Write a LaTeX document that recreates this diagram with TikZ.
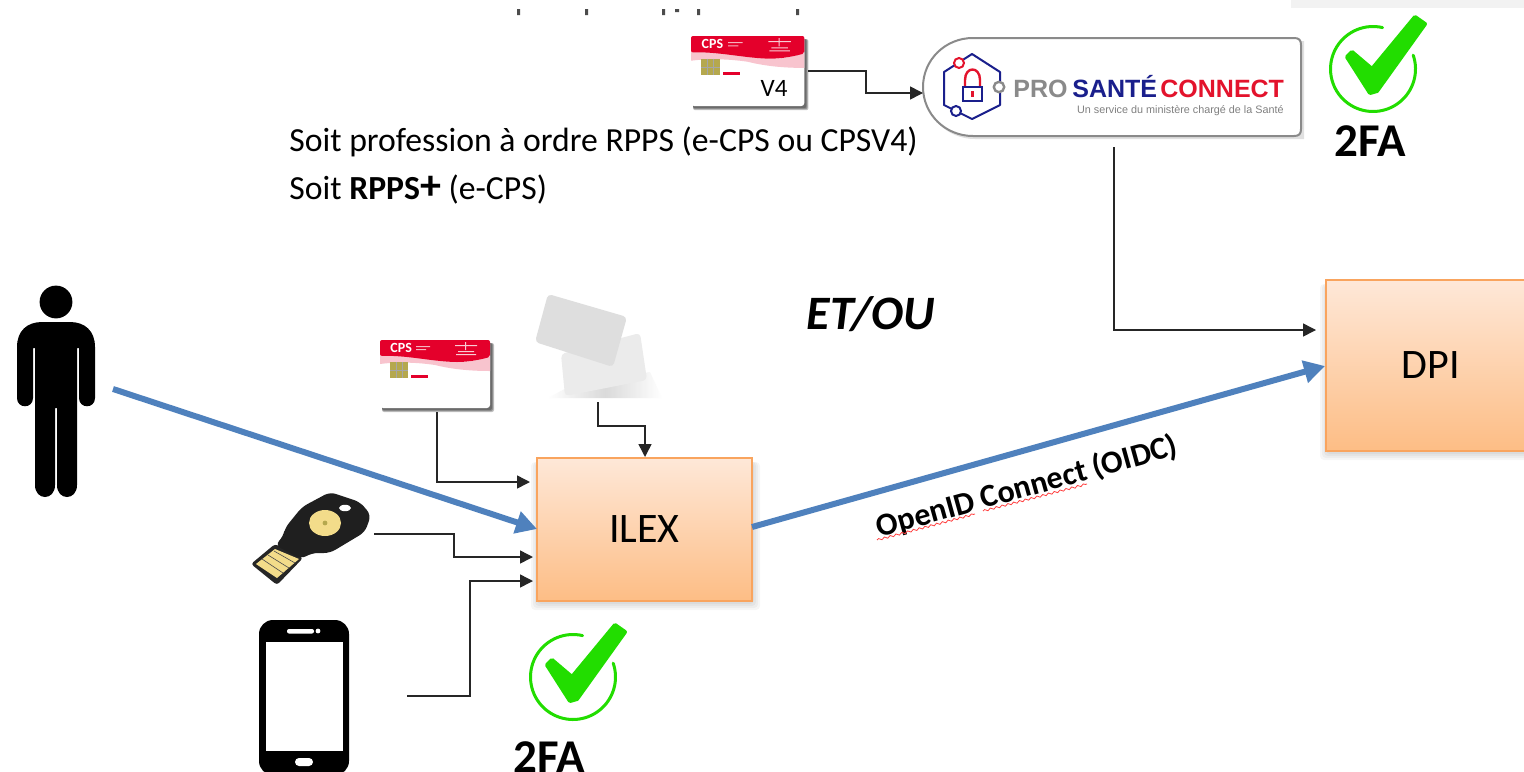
\documentclass[tikz,border=0pt]{standalone}
\usepackage{fontspec}
\setmainfont{Carlito}
\newfontfamily\logofont{Liberation Sans}
\usetikzlibrary{arrows.meta,decorations.pathmorphing}
\definecolor{flowblue}{HTML}{4F81BD}
\definecolor{boxedge}{HTML}{F9A45E}
\definecolor{boxtop}{HTML}{FEE8D8}
\definecolor{boxbot}{HTML}{FDBD85}
\definecolor{okgreen}{HTML}{22DD00}
\definecolor{cpsred}{HTML}{E4002B}
\definecolor{cpspink}{HTML}{F8C4CE}
\definecolor{chipgold}{HTML}{B5A84E}
\definecolor{pscnavy}{HTML}{1A1F8C}
\definecolor{pscred}{HTML}{E3132C}
\definecolor{pscgray}{HTML}{8A8A8A}
\definecolor{keygold}{HTML}{F3DC8A}
\tikzset{
  flowbox/.style={draw=boxedge,line width=1pt,top color=boxtop,bottom color=boxbot,inner sep=0pt,font=\fontsize{21}{25}\selectfont},
  conn/.style={draw=black!85,line width=.75pt,-{Triangle[length=6.5pt,width=6.5pt]}},
  flow/.style={draw=flowblue,line width=3pt,-{Triangle[length=10.5pt,width=11pt]}},
  iconbox/.style={inner sep=0pt,draw=none,fill=none},
  twofa/.style={font=\bfseries\fontsize{23.5}{28}\selectfont,inner sep=0pt},
  bodytext/.style={font=\fontsize{16.85}{20}\selectfont,inner sep=0pt,anchor=base west},
  typo/.style={draw=red!75,line width=.4pt,decorate,decoration={snake,amplitude=.5pt,segment length=3pt}},
  pscword/.style={font=\logofont\bfseries\fontsize{12.5}{15}\selectfont,inner sep=0pt,anchor=base west},
}
\newcommand{\softshadow}[4]{%
  \foreach \e in {1,3,5,7}{\fill[black,opacity=.035,rounded corners=2pt] (#1+1-\e,#2+4) rectangle (#3+1+\e,#4+2+\e);}}
\newcommand{\checkmarkicon}[2]{%
  \begin{scope}[shift={(#1,#2)}]
  \draw[okgreen,line width=1.5pt,line cap=round] plot[smooth,domain=-77:-379,samples=70] ({42.5*cos(\x)},{42.5*sin(\x)});
  \draw[okgreen,fill=okgreen,line width=2pt,line join=round] (-26,-12) -- (-21,-17) -- (-1,0) -- (42,-52) -- (52,-45) -- (4,22) -- (-3,24) -- cycle;
  \end{scope}}
\newcommand{\cardart}[3]{%
  \begin{scope}[shift={(#1,#2)},x=#3*.5pt,y=#3*-.5pt]
  \foreach \e in {1,2,3}{\fill[black,opacity=.25,rounded corners=1pt] (2,3) rectangle (111+\e,69+\e);}
  \fill[white,rounded corners=1.5pt] (0,0) rectangle (110,68);
  \fill[cpspink] (0,14) .. controls (40,16) and (60,22) .. (80,22) .. controls (95,22) and (105,18) .. (110,16) -- (110,31) .. controls (95,31) and (75,30) .. (55,25) .. controls (35,22) and (15,22) .. (0,24) -- cycle;
  \fill[cpsred,rounded corners=1pt] (0,0) -- (110,0) -- (110,17) .. controls (95,21) and (85,22) .. (75,22) .. controls (50,21) and (25,15) .. (0,16) -- cycle;
  \fill[chipgold] (10,22) rectangle (28,38);
  \draw[black!35,line width=.2pt] (16,22) -- (16,38) (22,22) -- (22,38) (10,30) -- (28,30);
  \fill[cpsred] (31,35) rectangle (48,38);
  \node[iconbox,text=white,anchor=west,font=\bfseries\fontsize{7}{8}\selectfont] (#1cpslabel) at (10,8) {CPS};
  \fill[white,opacity=.7] (36,6) rectangle (50,7) (36,9) rectangle (46,10);
  \fill[white,opacity=.8] (75,5) rectangle (97,6) (85,2) rectangle (86,10) (76,14) rectangle (96,15) (78,11) rectangle (94,12);
  \end{scope}}
\begin{document}
\begin{tikzpicture}[x=.5pt,y=-.5pt]
\useasboundingbox (0,0) rectangle (1524,771);
\clip (0,0) rectangle (1524,771);
\fill[white] (0,0) rectangle (1524,771);
% top-right sheet and remnants of the cropped line
\fill[black!5] (1291,0) rectangle (1524,8);
\fill[black!70] (517,9) rectangle (520,15) (585,9) rectangle (588,15) (662,9) rectangle (665,15) (675,9) rectangle (679,12) (697,9) rectangle (700,15) (796,9) rectangle (799,15);
% boxes
\softshadow{537}{458}{752}{601}
\softshadow{1326}{280}{1536}{451}
\node[flowbox,minimum width=107.5pt,minimum height=71.5pt] (ilex) at (644.5,529.5) {ILEX};
\node[flowbox,minimum width=105pt,minimum height=85.5pt] (dpi) at (1431,365.5) {DPI};
% person
\node[iconbox,minimum width=39pt,minimum height=105pt] (person) at (56,392) {};
\fill[black] (56,302) circle[radius=8.2pt];
\fill[black] (17,347) .. controls (17,331) and (27,322) .. (42,322) -- (70,322) .. controls (85,322) and (95,331) .. (95,347) -- (95,398) .. controls (95,409) and (79,409) .. (79,398) -- (79,348) -- (77,348) -- (77,485) .. controls (77,501) and (57,501) .. (57,485) -- (57,408) -- (55,408) -- (55,485) .. controls (55,501) and (35,501) .. (35,485) -- (35,348) -- (33,348) -- (33,398) .. controls (33,409) and (17,409) .. (17,398) -- cycle;
% CPS cards
\node[iconbox,minimum width=56.5pt,minimum height=36pt] (cps) at (436.5,376) {};
\cardart{380}{340}{1}
\node[iconbox,minimum width=58pt,minimum height=36pt] (cpsv) at (748,71.5) {};
\cardart{691}{36}{1.03}
\node[iconbox,anchor=center,font=\fontsize{12.5}{15}\selectfont] (vfour) at (774,88) {V4};
% blank cards
\node[iconbox,minimum width=62pt,minimum height=54pt] (blank) at (598,348) {};
\shade[left color=white,right color=white,middle color=black!18,opacity=.8] (548,398) -- (570,386) -- (650,372) -- (662,398) -- cycle;
\fill[black!8,rounded corners=2pt] (561,354) -- (640,333) -- (647,380) -- (565,396) -- cycle;
\fill[black!13,rounded corners=2pt] (535,342) -- (548,294) -- (627,317) -- (613,367) -- cycle;
% security key
\node[iconbox,minimum width=62pt,minimum height=47pt] (key) at (312,537) {};
\fill[black!85,rounded corners=1.5pt] (251,564) -- (275,544) -- (303,558) -- (277,585) -- cycle;
\fill[keygold] (256,564) -- (275,549) -- (299,559) -- (277,578) -- cycle;
\draw[black!70,line width=.3pt] (262,559) -- (283,573) (268,555) -- (289,568) (274,551) -- (295,563);
\fill[black!88,rounded corners=3pt] (285,528) -- (302,507) -- (330,492) -- (360,502) -- (371,515) -- (365,532) -- (330,553) -- (312,553) -- (301,559) -- (275,545) -- (283,537) -- cycle;
\fill[keygold] (325,523) ellipse[x radius=8pt,y radius=6.5pt];
\fill[chipgold] (325,523) circle[radius=1.2pt];
\fill[white] (345,508) ellipse[x radius=3pt,y radius=1.6pt];
% phone
\node[iconbox,minimum width=45pt,minimum height=76pt] (phone) at (304,696) {};
\fill[black,rounded corners=7pt] (259,620) rectangle (349,775);
\fill[white] (266,642) rectangle (343,751);
\fill[white,rounded corners=1pt] (287,629) rectangle (314,633.5);
\fill[white] (318,631) circle[radius=1.2pt];
\fill[white,rounded corners=2pt] (295,758) rectangle (313,766);
% Pro Santé Connect
\fill[black,opacity=.12] (975,41) -- (1304,41) -- (1304,139) -- (975,139) .. controls (947,139) and (925,117) .. (925,90) .. controls (925,63) and (947,41) .. (975,41) -- cycle;
\node[iconbox,minimum width=189pt,minimum height=49pt] (psc) at (1112,87) {};
\draw[pscgray,line width=1pt,fill=white] (973,38) -- (1294,38) .. controls (1299,38) and (1301,40) .. (1301,45) -- (1301,129) .. controls (1301,134) and (1299,136) .. (1294,136) -- (973,136) .. controls (945,136) and (923,114) .. (923,87) .. controls (923,60) and (945,38) .. (973,38) -- cycle;
\draw[pscnavy,line width=1pt,line join=round] (972,54) -- (1000,72) -- (1000,105) -- (972,119) -- (944,105) -- (944,72) -- cycle;
\draw[pscred,line width=1pt,fill=white] (959,63) circle[radius=2.5pt];
\draw[pscnavy,line width=1pt,fill=white] (956,111) circle[radius=2.5pt];
\draw[pscgray,line width=1.2pt,fill=white] (999,87) circle[radius=2.6pt];
\draw[pscred,line width=1.2pt] (965,87) -- (965,80) .. controls (965,66) and (980,66) .. (980,80) -- (980,87);
\draw[pscnavy,line width=1.2pt,fill=white] (963,87) rectangle (982,101);
\fill[pscred] (971,91) rectangle (974,97);
\node[pscword,text=pscgray] (pscpro) at (1013,97) {PRO};
\node[pscword,text=pscnavy] (pscsante) at (1072,97) {SANTÉ};
\node[pscword,text=pscred] (pscconnect) at (1160,97) {CONNECT};
\node[inner sep=0pt,anchor=base east,text=black!50,font=\logofont\fontsize{5.4}{6}\selectfont] (psctag) at (1284,113) {Un service du ministère chargé de la Santé};
% check marks
\checkmarkicon{573}{677}
\checkmarkicon{1373}{69}
\node[twofa] (fa) at (549.5,757) {2FA};
\node[twofa] (fb) at (1370.5,141) {2FA};
% texts
\node[bodytext] (line1) at (289,151) {Soit profession à ordre RPPS (e-CPS ou CPSV4)};
\node[bodytext] (line2) at (289,199) {Soit \textbf{RPPS}{\bfseries\fontsize{21}{21}\selectfont +} (e-CPS)};
\node[inner sep=0pt,font=\bfseries\itshape\fontsize{24}{28}\selectfont] (etou) at (871,314) {ET/OU};
\node[inner sep=0pt,rotate=15.5,font=\bfseries\fontsize{16}{19}\selectfont] (oidc) at (1027,487) {OpenID Connect (OIDC)};
\coordinate (typoA) at (877,540);\coordinate (typoB) at (975,514);\coordinate (typoC) at (983,511);\coordinate (typoD) at (1087,484);
\draw[typo] (typoA) -- (typoB);
\draw[typo] (typoC) -- (typoD);
% ports
\coordinate (cpsOut) at (437,412);
\coordinate (ilexCps) at (530,482);
\coordinate (blankOut) at (598,402);
\coordinate (blankMid) at (645,426);
\coordinate (ilexBlank) at (645,457);
\coordinate (keyOut) at (374,534);
\coordinate (keyMid) at (454,557);
\coordinate (ilexKey) at (533,557);
\coordinate (phoneOut) at (407,696);
\coordinate (phoneMid) at (470,581);
\coordinate (ilexPhone) at (533,581);
\coordinate (cpsvOut) at (808,71);
\coordinate (cpsvMid) at (866,93);
\coordinate (pscIn) at (923,93);
\coordinate (pscOut) at (1114,147);
\coordinate (dpiIn) at (1316,330);
\coordinate (personOut) at (113,389);
\coordinate (ilexIn) at (537,529);
\coordinate (ilexOut) at (752,527);
\coordinate (dpiFlow) at (1325,366);
% connectors
\draw[conn] (cpsOut) |- (ilexCps);
\draw[conn] (blankOut) |- (blankMid) -- (ilexBlank);
\draw[conn] (keyOut) -| (keyMid) -- (ilexKey);
\draw[conn] (phoneOut) -| (phoneMid) -- (ilexPhone);
\draw[conn] (cpsvOut) -| (cpsvMid) -- (pscIn);
\draw[conn] (pscOut) |- (dpiIn);
\draw[flow] (personOut) -- (ilexIn);
\draw[flow] (ilexOut) -- (dpiFlow);
\end{tikzpicture}
\end{document}
